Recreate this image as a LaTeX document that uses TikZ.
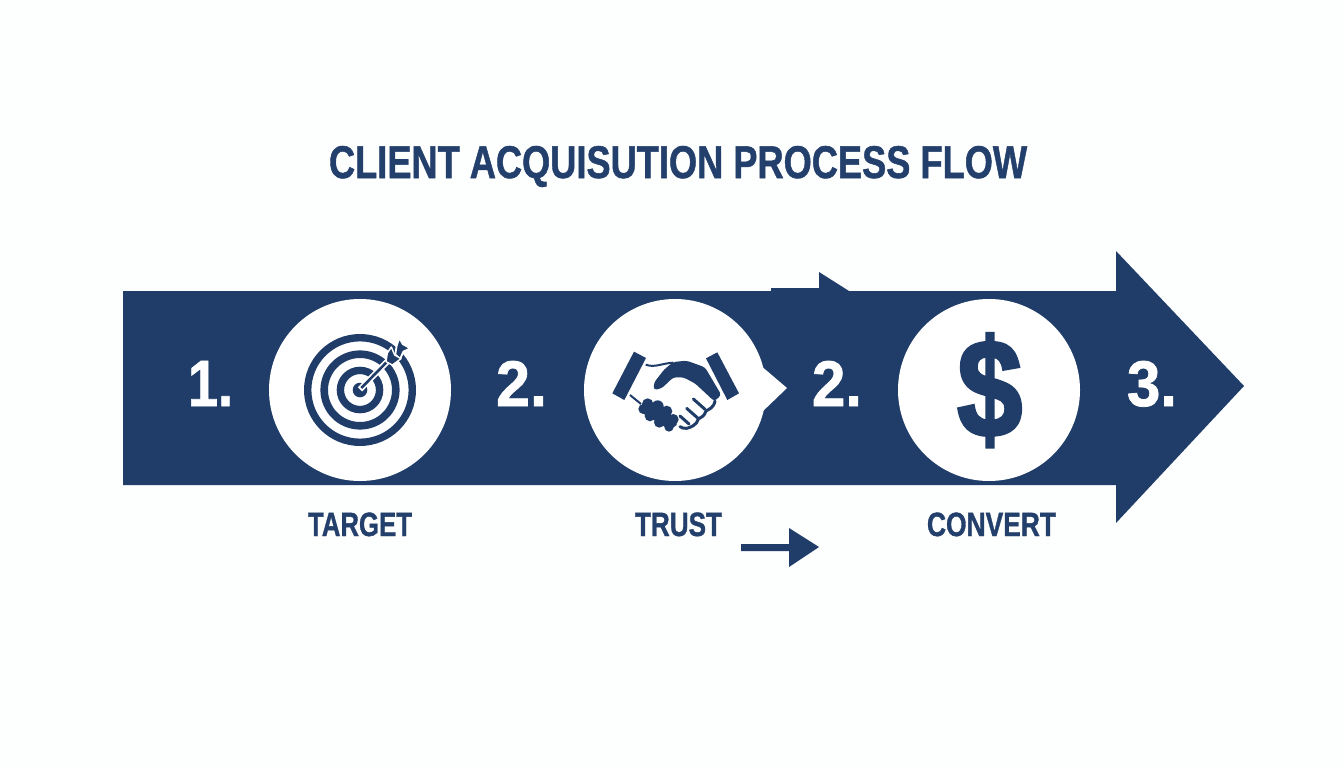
\documentclass[tikz,border=0pt]{standalone}
\usepackage{graphicx}
\usepackage{fontspec}
\setmainfont{Liberation Sans}[BoldFeatures={FakeBold=1.2}]
\newfontfamily\heavyfont{Liberation Sans Bold}[FakeBold=2.5]
\definecolor{navy}{HTML}{1F3D68}
\definecolor{ink}{HTML}{233F6B}
\definecolor{paper}{HTML}{FDFEFE}
% left x, baseline y, width, height, colour, name, text
\newcommand{\fittext}[7]{\node[anchor=south west,inner sep=0pt,outer sep=0pt,text=#5,font=\bfseries] (#6) at (#1,#2) {\resizebox*{#3pt}{#4pt}{\raisebox{0pt}[\height][0pt]{#7}}};}
\tikzset{
  solidnavy/.style={fill=navy,draw=none},
  disc/.style={fill=white,draw=none},
  zoomA/.style={shift={(260,290)},x=0.3333pt,y=-0.3333pt},
  zoomH/.style={shift={(605,340)},x=0.3333pt,y=-0.3333pt},
  zoomF/.style={shift={(350,325)},x=0.3333pt,y=-0.3333pt},
  handline/.style={draw=navy,line width=3pt,line cap=round,line join=round,fill=none},
}
\begin{document}
\begin{tikzpicture}[x=1pt,y=-1pt]
\fill[paper] (0,0) rectangle (1344,768);
\useasboundingbox (0,0) rectangle (1344,768);
% main arrow
\path[solidnavy] (123,291) -- (771,291) -- (771,288) -- (819,288) -- (819,272) -- (849,291) -- (1116,291) -- (1116,251) -- (1244,386) -- (1116,523) -- (1116,485) -- (123,485) -- cycle;
% circles
\node[disc,circle,minimum size=182pt,inner sep=0pt] (c1) at (360,390) {};
\node[disc,circle,minimum size=182pt,inner sep=0pt] (c2) at (675,390) {};
\node[disc,circle,minimum size=182pt,inner sep=0pt] (c3) at (989,390) {};
\path[disc] (760,365) -- (787,388) -- (761,413) -- cycle;
% target
\foreach \ro/\w in {52.3/7.4, 35.8/7.6, 19.6/7.4}{
  \draw[navy,line width=\w pt] (c1.center) circle[radius=\ro];
}
\fill[navy] (c1.center) circle[radius=7.3];
\begin{scope}[zoomA]
  \draw[white,line width=6pt] (300,298) -- (400,196);
  \draw[navy,line width=2.6pt] (304,294) -- (398,198);
\end{scope}
\begin{scope}[zoomF]
  \path[fill=navy,draw=white,line width=1.8pt,line join=round] (148,38) -- (158,57) -- (181,70) -- (160,80) -- (150,103) -- (136,88) -- (140,62) -- cycle;
  \path[fill=navy,draw=white,line width=1.4pt,line join=round] (124,66) -- (134,90) -- (153,101) -- (127,120) -- (108,110) -- (112,84) -- cycle;
\end{scope}
% handshake
\begin{scope}[zoomH]
  \fill[navy] (87,35) -- (123,54) -- (58,180) -- (22,160) -- cycle;
  \fill[navy] (337,37) -- (303,55) -- (367,180) -- (402,160) -- cycle;
  \draw[navy,line width=2pt] (122,74) .. controls (150,84) and (170,70) .. (205,68);
  \fill[navy,rounded corners=3pt] (205,66) -- (245,62) -- (300,82) -- (349,165) -- (328,184) -- (270,130) -- (235,112) -- (205,112) -- (170,145) -- (146,150) -- (147,128) -- (178,88) -- cycle;
  \draw[navy,line width=2pt] (75,165) -- (108,192);
  \fill[navy] (120,185) -- (215,235) -- (215,255) -- (195,270) -- (105,215) -- cycle;
  \fill[navy] (128,192) circle[radius=17] (158,199) circle[radius=18] (185,214) circle[radius=17] (205,238) circle[radius=16] (115,207) circle[radius=15] (135,228) circle[radius=16] (163,247) circle[radius=16] (192,261) circle[radius=14];
  \draw[handline] (330,183) .. controls (326,205) and (310,208) .. (303,213) .. controls (298,228) and (290,232) .. (280,237) .. controls (275,255) and (258,262) .. (245,265) .. controls (238,266) and (230,264) .. (225,260);
  \draw[handline] (265,177) -- (300,208);
  \draw[handline] (245,205) -- (278,234);
  \draw[handline] (225,228) -- (252,252);
\end{scope}
% lower arrow
\path[solidnavy] (741,544) -- (789,544) -- (789,528) -- (819,547) -- (789,567) -- (789,551) -- (741,551) -- cycle;
% texts
\fittext{329}{178}{698}{32}{ink}{title}{CLIENT ACQUISUTION PROCESS FLOW}
\fittext{308}{536}{104}{23.5}{ink}{lab1}{TARGET}
\fittext{635}{536}{87}{23.5}{ink}{lab2}{TRUST}
\fittext{927}{536}{129}{23.5}{ink}{lab3}{CONVERT}
\fittext{188}{406}{45}{45}{white}{n1}{1.}
\fittext{496}{406}{51}{45}{white}{n2}{2.}
\fittext{812}{406}{50}{45}{white}{n3}{2.}
\fittext{1127}{406}{50}{45}{white}{n4}{3.}
\node[anchor=south west,inner sep=0pt,text=navy] (dollar) at (957,447) {\resizebox*{65pt}{113pt}{\heavyfont\$}};
\end{tikzpicture}
\end{document}
